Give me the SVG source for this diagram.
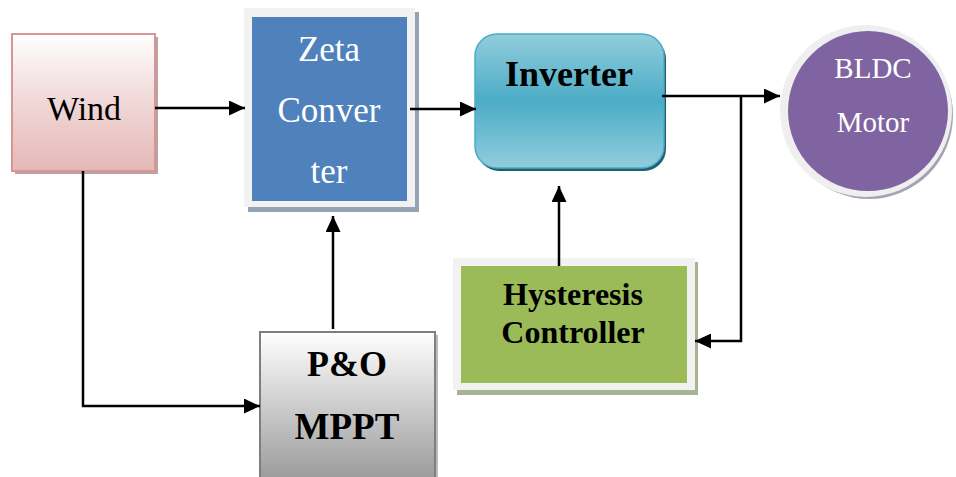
<svg xmlns="http://www.w3.org/2000/svg" width="956" height="477" viewBox="0 0 956 477">
<defs>
<linearGradient id="gWind" x1="0" y1="0" x2="0" y2="1"><stop offset="0" stop-color="#ffffff"/><stop offset="0.5" stop-color="#f0d7d7"/><stop offset="1" stop-color="#e5b8b7"/></linearGradient>
<linearGradient id="gInv" x1="0" y1="0" x2="0" y2="1"><stop offset="0" stop-color="#92cddc"/><stop offset="0.5" stop-color="#4bacc6"/><stop offset="1" stop-color="#92cddc"/></linearGradient>
<linearGradient id="gPO" x1="0" y1="0" x2="0" y2="1"><stop offset="0" stop-color="#ffffff"/><stop offset="1" stop-color="#999999"/></linearGradient>
<marker id="arr" markerWidth="16" markerHeight="15" refX="16" refY="7.5" orient="auto" markerUnits="userSpaceOnUse"><path d="M0,0 L16,7.5 L0,15 Z" fill="#000"/></marker>
</defs>
<style>
.conn{fill:none;stroke:#000;stroke-width:2.5}
text{text-anchor:middle}
.bold{font-weight:bold;fill:#000}
.white{fill:#fff}
</style>
<rect width="956" height="477" fill="#fff"/>
<g id="wind">
<rect x="15" y="37" width="143" height="137" fill="#a88b8b" opacity="0.8"/>
<rect x="12" y="34" width="143" height="137" fill="url(#gWind)" stroke="#d99594" stroke-width="2"/>
<text font-family="Liberation Serif, serif" x="84" y="120" font-size="34" fill="#000">Wind</text>
</g>
<g id="zeta">
<rect x="248" y="12" width="171" height="200" fill="#95a3b3"/>
<rect x="244" y="8" width="171" height="199" fill="#f2f2f2"/>
<rect x="252" y="17" width="155" height="184" fill="#4f81bd"/>
<text font-family="Liberation Serif, serif" class="white" x="329" y="61" font-size="35">Zeta</text>
<text font-family="Liberation Serif, serif" class="white" x="329" y="122" font-size="35">Conver</text>
<text font-family="Liberation Serif, serif" class="white" x="329" y="183" font-size="35">ter</text>
</g>
<g id="inverter">
<rect x="477" y="37" width="189" height="134" rx="22" fill="#215e6e"/>
<rect x="475" y="34" width="189" height="134" rx="22" fill="url(#gInv)" stroke="#4bacc6" stroke-width="1.5"/>
<text font-family="Liberation Serif, serif" class="bold" x="569" y="86" font-size="36">Inverter</text>
</g>
<g id="bldc">
<circle cx="869" cy="115" r="84" fill="#aaa0b5"/>
<circle cx="866" cy="111" r="86" fill="#efefef"/>
<circle cx="868" cy="111" r="80" fill="#8064a2"/>
<text font-family="Liberation Serif, serif" class="white" x="873" y="78" font-size="29">BLDC</text>
<text font-family="Liberation Serif, serif" class="white" x="873" y="132" font-size="29">Motor</text>
</g>
<g id="po">
<rect x="263" y="335" width="175" height="150" fill="#bbbbbb"/>
<rect x="260" y="332" width="175" height="150" fill="url(#gPO)" stroke="#7f7f7f" stroke-width="2"/>
<text font-family="Liberation Serif, serif" class="bold" x="347" y="376" font-size="36">P&amp;O</text>
<text font-family="Liberation Serif, serif" class="bold" x="347" y="439" font-size="37">MPPT</text>
</g>
<g id="hysteresis">
<rect x="457" y="262" width="241" height="133" fill="#a6b493"/>
<rect x="453" y="258" width="242" height="132" fill="#f2f2f2"/>
<rect x="461" y="266" width="226" height="117" fill="#9bbb59"/>
<text font-family="Liberation Serif, serif" class="bold" x="573" y="305" font-size="32">Hysteresis</text>
<text font-family="Liberation Serif, serif" class="bold" x="573" y="343" font-size="32">Controller</text>
</g>
<g id="connectors">
<line class="conn" x1="155" y1="108" x2="245" y2="108" marker-end="url(#arr)"/>
<polyline class="conn" points="83,171 83,406 260,406" marker-end="url(#arr)"/>
<line class="conn" x1="333" y1="329" x2="333" y2="216" marker-end="url(#arr)"/>
<line class="conn" x1="410" y1="109" x2="476" y2="109" marker-end="url(#arr)"/>
<line class="conn" x1="559" y1="266" x2="559" y2="186" marker-end="url(#arr)"/>
<line class="conn" x1="662" y1="96" x2="780" y2="96" marker-end="url(#arr)"/>
<polyline class="conn" points="741,96 741,341 695,341" marker-end="url(#arr)"/>
</g>
</svg>
